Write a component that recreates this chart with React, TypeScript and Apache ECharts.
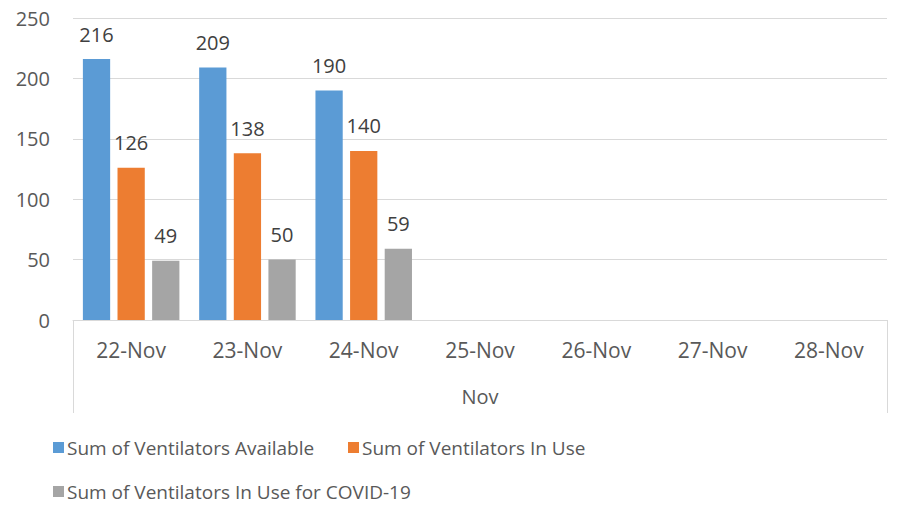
import React, { useEffect, useRef } from "react";
import * as echarts from "echarts";

const categories = ["22-Nov", "23-Nov", "24-Nov", "25-Nov", "26-Nov", "27-Nov", "28-Nov"];
const groupLabel = "Nov";
const seriesNames = [
  "Sum of Ventilators Available",
  "Sum of Ventilators In Use",
  "Sum of Ventilators In Use for COVID-19",
];
const available = [216, 209, 190, null, null, null, null];
const inUse = [126, 138, 140, null, null, null, null];
const inUseCovid = [49, 50, 59, null, null, null, null];
const colors = ["#5B9BD5", "#ED7D31", "#A5A5A5"];

const FONT = "'Open Sans', sans-serif";

export default function App() {
  const ref = useRef<HTMLDivElement>(null);
  useEffect(() => {
    if (!ref.current) return;
    const chart = echarts.init(ref.current, null, { renderer: "svg" });
    const values = [available, inUse, inUseCovid];
    const legendPos = [
      { left: 53, top: 438 },
      { left: 348, top: 438 },
      { left: 53, top: 482 },
    ];
    chart.setOption({
      animation: false,
      backgroundColor: "#ffffff",
      grid: { left: 73, right: 23, top: 18, bottom: 186, containLabel: false },
      xAxis: {
        type: "category",
        data: categories,
        name: groupLabel,
        nameLocation: "middle",
        nameGap: 66,
        nameTextStyle: { color: "#595959", fontSize: 20, fontFamily: FONT },
        axisLine: { lineStyle: { color: "#d9d9d9", width: 1 } },
        axisTick: { show: false },
        axisLabel: { color: "#595959", fontSize: 21, fontFamily: FONT, margin: 19 },
      },
      yAxis: {
        type: "value",
        min: 0,
        max: 250,
        interval: 50,
        axisLine: { show: false },
        axisTick: { show: false },
        axisLabel: { color: "#595959", fontSize: 20, fontFamily: FONT, margin: 23 },
        splitLine: { lineStyle: { color: "#d9d9d9", width: 1 } },
      },
      legend: seriesNames.map((n, i) => ({
        data: [n],
        left: legendPos[i].left,
        top: legendPos[i].top,
        icon: "rect",
        itemWidth: 11,
        itemHeight: 11,
        itemGap: 0,
        padding: 0,
        textStyle: { color: "#595959", fontSize: 19, fontFamily: FONT, padding: [0, 0, 0, -2] },
      })),
      series: seriesNames.map((n, i) => ({
        name: n,
        type: "bar",
        data: values[i],
        barGap: "27%",
        barCategoryGap: "17%",
        itemStyle: { color: colors[i] },
        label: {
          show: true,
          position: "top",
          distance: 15,
          color: "#404040",
          fontSize: 20,
          fontFamily: FONT,
        },
      })),
      graphic: [
        { type: "line", shape: { x1: 73.5, y1: 320, x2: 73.5, y2: 413 }, style: { stroke: "#d9d9d9", lineWidth: 1 } },
        { type: "line", shape: { x1: 887.5, y1: 320, x2: 887.5, y2: 413 }, style: { stroke: "#d9d9d9", lineWidth: 1 } },
      ],
    });
    return () => chart.dispose();
  }, []);
  return <div ref={ref} style={{ width: 910, height: 506, position: "absolute", left: 0, top: 0 }} />;
}
